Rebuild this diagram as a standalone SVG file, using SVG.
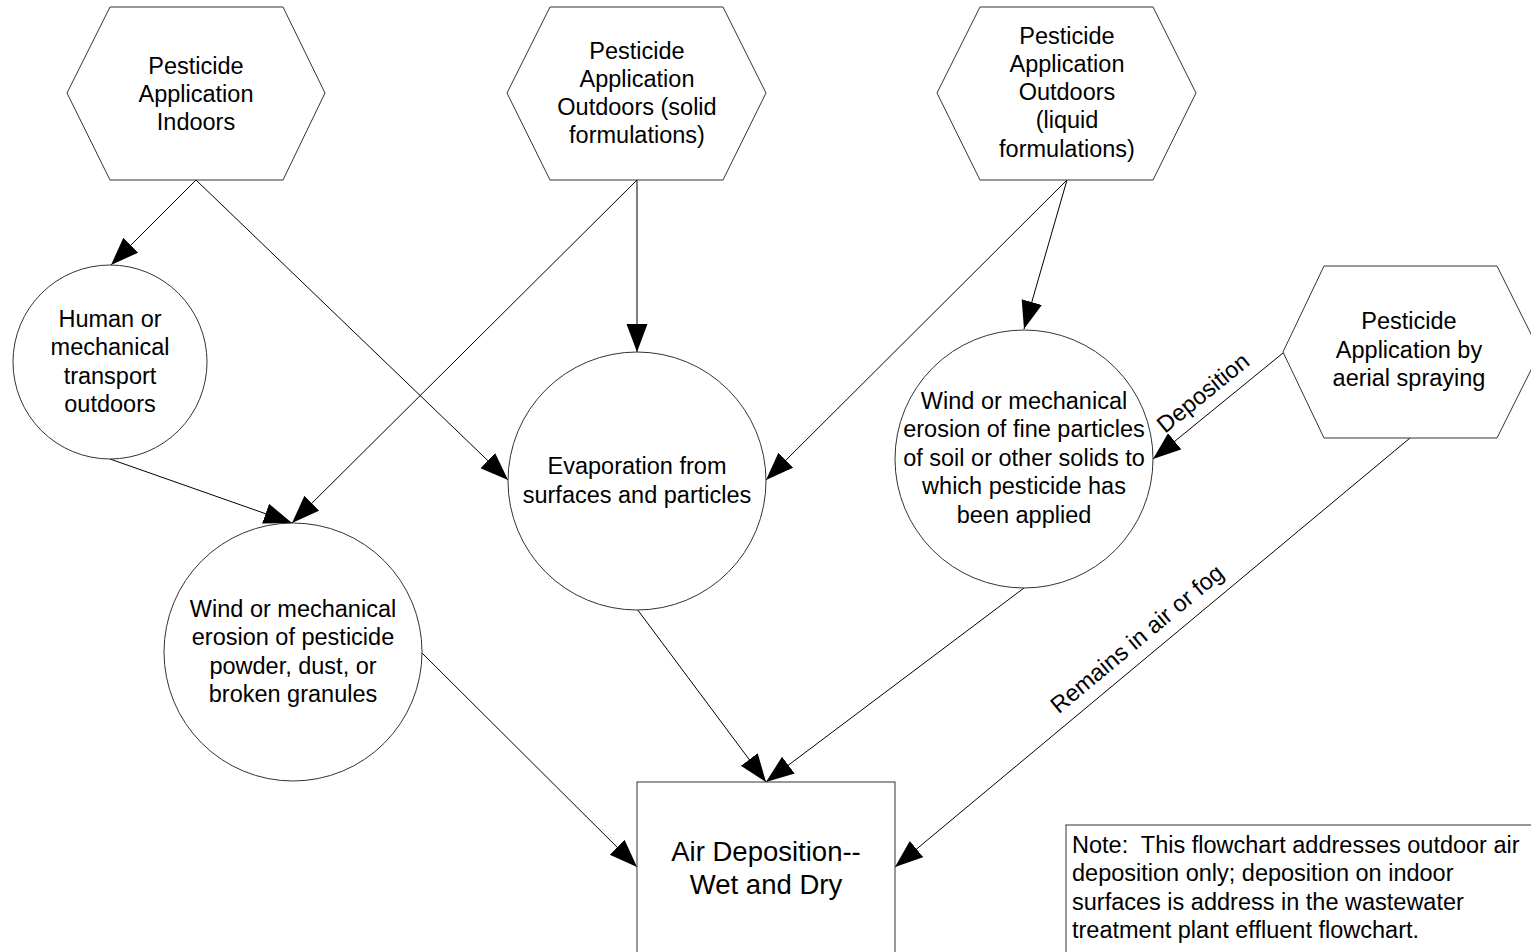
<svg xmlns="http://www.w3.org/2000/svg" width="1531" height="952" viewBox="0 0 1531 952">
<defs>
<style>
.shape{fill:#fff;stroke:#333;stroke-width:1}
.t{font-family:"Liberation Sans",Arial,sans-serif;font-size:23.5px;fill:#000;text-anchor:middle}
.tl{font-family:"Liberation Sans",Arial,sans-serif;font-size:23.5px;fill:#000;white-space:pre}
.big{font-size:27.5px}
.conn line{stroke:#000;stroke-width:1;marker-end:url(#arrow)}
</style>
<marker id="arrow" markerUnits="userSpaceOnUse" markerWidth="29" markerHeight="22" refX="28" refY="10.5" orient="auto">
<path d="M0,0 L28,10.5 L0,21 z" fill="#000"/>
</marker>
</defs>
<rect width="1531" height="952" fill="#fff"/>

<g id="connectors" class="conn">
<line x1="196" y1="180" x2="111" y2="265"/>
<line x1="196" y1="180" x2="508" y2="480"/>
<line x1="637" y1="180" x2="637" y2="352"/>
<line x1="637" y1="180" x2="292" y2="523"/>
<line x1="110" y1="459" x2="292" y2="523"/>
<line x1="1067" y1="180" x2="766" y2="480"/>
<line x1="1067" y1="180" x2="1024" y2="329"/>
<line x1="1283" y1="353" x2="1153" y2="459"/>
<line x1="1024" y1="588" x2="766" y2="782"/>
<line x1="637" y1="609" x2="766" y2="782"/>
<line x1="422" y1="653" x2="637" y2="867"/>
<line x1="1410" y1="438" x2="895" y2="867"/>
<text class="t" transform="translate(1208,399) rotate(-39.2)">Deposition</text>
<text class="t" transform="translate(1142,645) rotate(-39.8)">Remains in air or fog</text>
</g>

<g id="hex-indoors">
<polygon class="shape" points="110,7 283,7 325,93 283,180 110,180 67,93"/>
<text class="t"><tspan x="196" y="74">Pesticide</tspan><tspan x="196" y="102">Application</tspan><tspan x="196" y="130">Indoors</tspan></text>
</g>

<g id="hex-solid">
<polygon class="shape" points="550,7 723,7 766,93 723,180 550,180 507,93"/>
<text class="t"><tspan x="637" y="59">Pesticide</tspan><tspan x="637" y="87">Application</tspan><tspan x="637" y="115">Outdoors (solid</tspan><tspan x="637" y="143">formulations)</tspan></text>
</g>

<g id="hex-liquid">
<polygon class="shape" points="980,7 1153,7 1196,93 1153,180 980,180 937,93"/>
<text class="t"><tspan x="1067" y="44">Pesticide</tspan><tspan x="1067" y="72">Application</tspan><tspan x="1067" y="100">Outdoors</tspan><tspan x="1067" y="128">(liquid</tspan><tspan x="1067" y="157">formulations)</tspan></text>
</g>

<g id="hex-aerial">
<polygon class="shape" points="1324,266 1497,266 1540,352 1497,438 1324,438 1283,352"/>
<text class="t"><tspan x="1409" y="329">Pesticide</tspan><tspan x="1409" y="358">Application by</tspan><tspan x="1409" y="386">aerial spraying</tspan></text>
</g>

<g id="circle-transport">
<circle class="shape" cx="110" cy="362" r="97"/>
<text class="t"><tspan x="110" y="327">Human or</tspan><tspan x="110" y="355">mechanical</tspan><tspan x="110" y="384">transport</tspan><tspan x="110" y="412">outdoors</tspan></text>
</g>

<g id="circle-powder">
<circle class="shape" cx="293" cy="652" r="129"/>
<text class="t"><tspan x="293" y="617">Wind or mechanical</tspan><tspan x="293" y="645">erosion of pesticide</tspan><tspan x="293" y="674">powder, dust, or</tspan><tspan x="293" y="702">broken granules</tspan></text>
</g>

<g id="circle-evaporation">
<circle class="shape" cx="637" cy="481" r="129"/>
<text class="t"><tspan x="637" y="474">Evaporation from</tspan><tspan x="637" y="503">surfaces and particles</tspan></text>
</g>

<g id="circle-soil">
<circle class="shape" cx="1024" cy="459" r="129"/>
<text class="t"><tspan x="1024" y="409">Wind or mechanical</tspan><tspan x="1024" y="437">erosion of fine particles</tspan><tspan x="1024" y="466">of soil or other solids to</tspan><tspan x="1024" y="494">which pesticide has</tspan><tspan x="1024" y="523">been applied</tspan></text>
</g>

<g id="air-deposition">
<rect class="shape" x="637" y="782" width="258" height="200"/>
<text class="t big"><tspan x="766" y="861">Air Deposition--</tspan><tspan x="766" y="894">Wet and Dry</tspan></text>
</g>

<g id="note">
<rect class="shape" x="1066" y="825" width="480" height="150"/>
<text class="tl" xml:space="preserve"><tspan x="1072" y="853">Note:  This flowchart addresses outdoor air</tspan><tspan x="1072" y="881">deposition only; deposition on indoor</tspan><tspan x="1072" y="910">surfaces is address in the wastewater</tspan><tspan x="1072" y="938">treatment plant effluent flowchart.</tspan></text>
</g>
</svg>
